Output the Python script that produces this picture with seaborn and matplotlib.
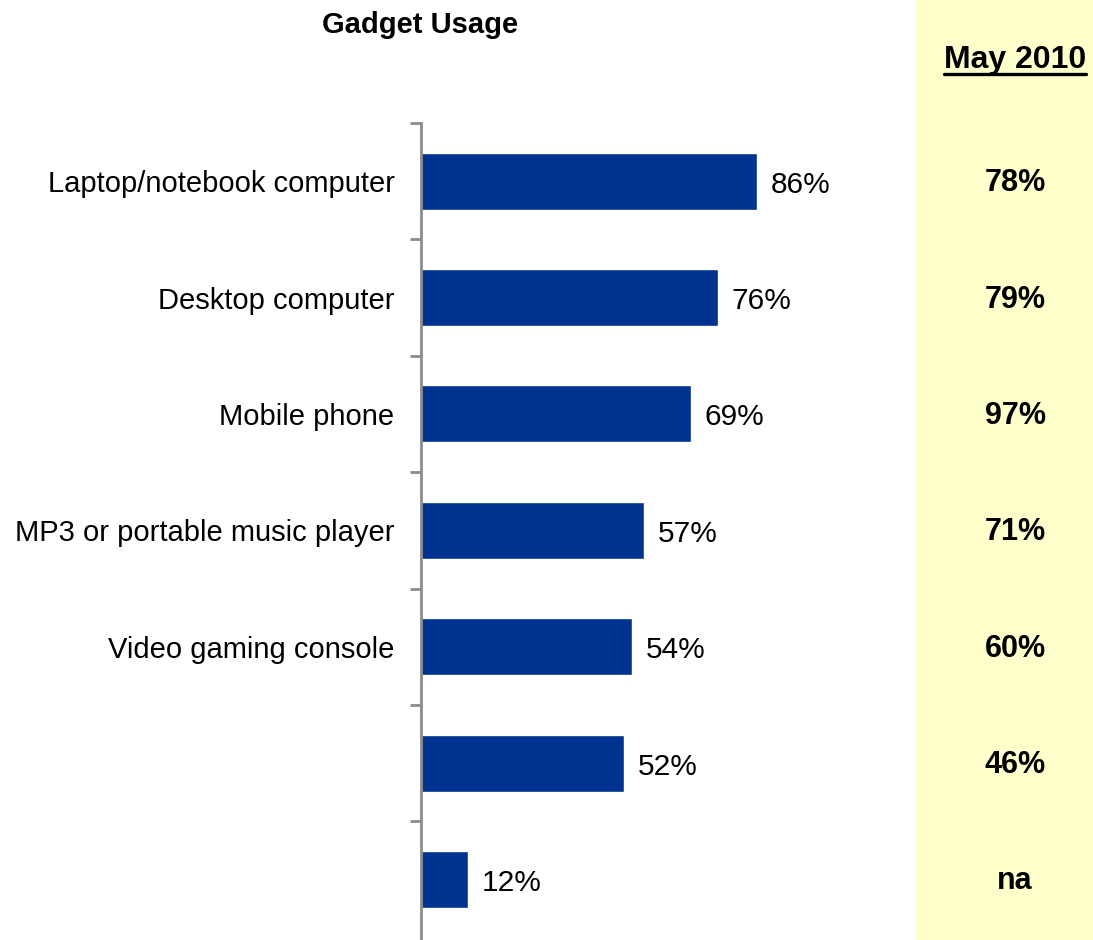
import matplotlib
matplotlib.use("Agg")
import matplotlib.pyplot as plt
from matplotlib.patches import Rectangle
from matplotlib.lines import Line2D
import seaborn as sns
import pandas as pd

# Survey items (two rows carry no label) and their shares
items = ["Laptop/notebook computer", "Desktop computer", "Mobile phone",
         "MP3 or portable music player", "Video gaming console", "", ""]
usage = [86, 76, 69, 57, 54, 52, 12]
may_2010 = ["78%", "79%", "97%", "71%", "60%", "46%", "na"]

title = "Gadget Usage"
column_header = "May 2010"

sns.set_theme(style="white")
plt.rcParams["font.family"] = ["Liberation Sans", "DejaVu Sans"]
plt.rcParams["text.color"] = "black"

W, H = 1093, 940
fig = plt.figure(figsize=(W / 100, H / 100), dpi=100)

# Highlighted comparison column
fig.patches.append(Rectangle((916 / W, 0), 1 - 916 / W, 1, transform=fig.transFigure,
                             facecolor="#FFFFCC", edgecolor="none", zorder=0))

ax = fig.add_axes([421 / W, 0.0, (916 - 421) / W, 1 - 123 / H])
ax.set_facecolor("none")

df = pd.DataFrame({"row": [str(i) for i in range(len(items))], "usage": usage})
sns.barplot(data=df, x="usage", y="row", orient="h", color="#003390",
            width=0.49, saturation=1, ax=ax)

ax.set_xlim(0, (916 - 421) / 3.907)
ax.set_ylim(len(items) - 0.5 + 0.02, -0.5)
ax.set_xlabel("")
ax.set_ylabel("")
ax.set_xticks([])

# Category labels on centres, tick marks on row boundaries
ax.set_yticks(range(len(items)))
ax.set_yticklabels(items, fontsize=21, color="black")
ax.tick_params(axis="y", which="major", length=0, pad=19)
ax.set_yticks([i - 0.5 for i in range(len(items))], minor=True)
ax.tick_params(axis="y", which="minor", left=True, length=8, width=2, color="#8C8C8C")

for side in ["top", "right", "bottom"]:
    ax.spines[side].set_visible(False)
ax.spines["left"].set_color("#8C8C8C")
ax.spines["left"].set_linewidth(2)

for i, v in enumerate(usage):
    ax.text(v + 3.6, i + 0.03, f"{v}%", va="center", ha="left", fontsize=21.5, color="black")

# Comparison values in the yellow column
xcol = 1015 / W
for i, s in enumerate(may_2010):
    y = ax.transData.transform((0, i))[1]
    yf = fig.transFigure.inverted().transform((0, y))[1]
    fig.text(xcol, yf - 2 / H, s, ha="center", va="center", fontsize=22,
             fontweight="bold", color="black")

fig.text(420 / W, 1 - 25 / H, title, ha="center", va="center", fontsize=21,
         fontweight="bold", color="black")
hdr = fig.text(xcol, 1 - 60 / H, column_header, ha="center", va="center",
               fontsize=23, fontweight="bold", color="black")

# Underline the column header
fig.canvas.draw()
bb = hdr.get_window_extent().transformed(fig.transFigure.inverted())
fig.lines.append(Line2D([bb.x0, bb.x1], [bb.y0 + 0.001, bb.y0 + 0.001],
                        transform=fig.transFigure, color="black", linewidth=2.4))

fig.savefig("out.png", dpi=100)
